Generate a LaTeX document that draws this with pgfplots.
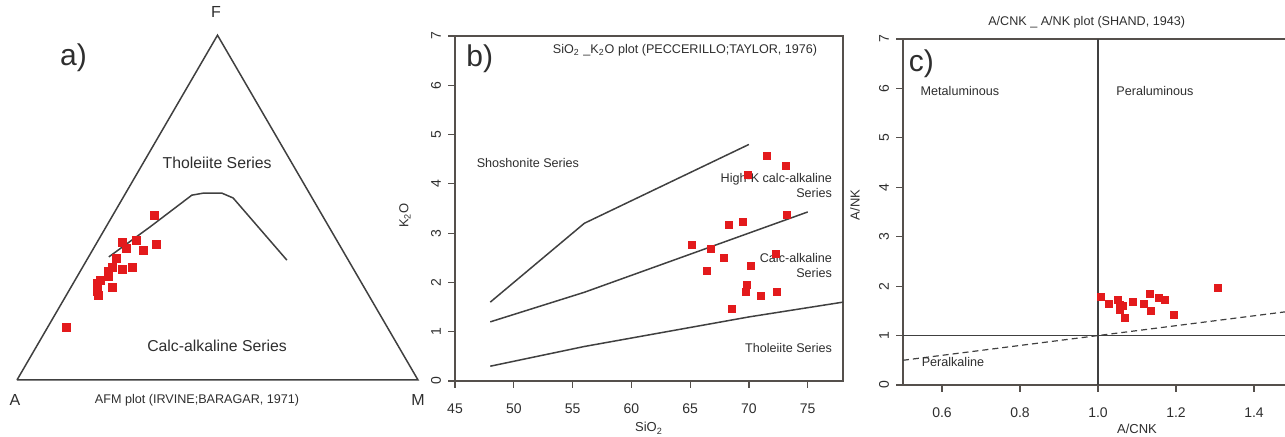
\documentclass[border=0pt]{standalone}
\usepackage{fontspec}
\setmainfont{Liberation Sans}
\usepackage{pgfplots}
\pgfplotsset{compat=1.18}

\definecolor{txtc}{HTML}{2E2E2E}
\definecolor{axisc}{HTML}{55504C}
\definecolor{linec}{HTML}{404040}
\definecolor{ptred}{HTML}{E31A1C}

\newcommand{\smallf}{\fontsize{6.3}{7.5}\selectfont}
\newcommand{\midf}{\fontsize{7.9}{9}\selectfont}
\newcommand{\bigf}{\fontsize{15}{17}\selectfont}

\pgfplotsset{
  rplot/.style={
    scale only axis,
    anchor=south west,
    clip=false,
    axis line style={draw=axisc, line width=0.75pt},
    tick style={draw=axisc, line width=0.6pt},
    tick align=outside,
    xtick pos=left, ytick pos=left,
    major tick length=3.5pt,
    /pgf/number format/assume math mode=true,
    ticklabel style={font=\fontsize{7}{8}\selectfont, text=txtc},
    yticklabel style={rotate=90, anchor=south},
    xticklabel shift=4.5pt,
  },
  pts/.style={only marks, mark=square*, mark options={fill=ptred, draw=ptred}},
  bnd/.style={draw=linec, line width=0.75pt, no marks},
}

\begin{document}
\begin{tikzpicture}

% a) AFM ternary (A at 0,0; M at 1,0; F at apex)
\begin{axis}[
  scale only axis, anchor=south west, clip=false, hide axis,
  at={(8.5pt,28.5pt)}, width=200.5pt, height=172.4pt,
  xmin=0, xmax=1, ymin=0, ymax=0.86]
\addplot[bnd] coordinates {(0,0) (1,0) (0.5,0.86) (0,0)};
\addplot[bnd] coordinates {(0.229,0.307) (0.332,0.382) (0.436,0.461) (0.464,0.466) (0.511,0.466) (0.539,0.454) (0.673,0.299)};
\addplot[pts, mark size=2pt] coordinates {
(0.342,0.411) (0.347,0.337) (0.299,0.347) (0.264,0.342) (0.274,0.327)
(0.314,0.322) (0.249,0.304) (0.289,0.282) (0.264,0.277) (0.239,0.282)
(0.227,0.272) (0.229,0.259) (0.209,0.249) (0.200,0.242) (0.237,0.232)
(0.200,0.222) (0.202,0.212) (0.122,0.130)};
\node[text=txtc, font=\fontsize{8}{9}\selectfont] at (axis cs:0.496,0.918) {F};
\node[text=txtc, font=\fontsize{8}{9}\selectfont] at (axis cs:-0.005,-0.05) {A};
\node[text=txtc, font=\fontsize{8}{9}\selectfont] at (axis cs:1.0,-0.05) {M};
\node[text=txtc, font=\bigf] at (axis cs:0.141,0.805) {a)};
\node[text=txtc, font=\midf] at (axis cs:0.499,0.541) {Tholeiite Series};
\node[text=txtc, font=\midf] at (axis cs:0.499,0.085) {Calc-alkaline Series};
\node[text=txtc, font=\smallf] at (axis cs:0.449,-0.05) {AFM plot (IRVINE;BARAGAR, 1971)};
\end{axis}

% b) SiO2 - K2O
\begin{axis}[rplot,
  at={(227.5pt,28pt)}, width=194pt, height=172.5pt,
  xmin=45, xmax=78, ymin=0, ymax=7,
  xtick={45,50,55,60,65,70,75}, ytick={0,1,2,3,4,5,6,7}]
\addplot[bnd] coordinates {(48,1.6) (56,3.2) (70,4.8)};
\addplot[bnd] coordinates {(48,1.2) (56,1.8) (75,3.43)};
\addplot[bnd] coordinates {(48,0.3) (56,0.7) (63,1.0) (70,1.3) (78,1.6)};
\addplot[pts, mark size=1.75pt] coordinates {
(71.51,4.56) (73.16,4.36) (69.90,4.18) (73.21,3.38) (68.29,3.16)
(69.48,3.22) (65.18,2.76) (66.79,2.68) (67.84,2.49) (72.31,2.57)
(70.19,2.34) (66.42,2.23) (69.84,1.95) (69.70,1.81) (70.98,1.73)
(72.36,1.81) (68.54,1.47)};
\node[text=txtc, font=\bigf] at (axis cs:47.1,6.53) {b)};
\node[text=txtc, font=\smallf, anchor=east] at (axis cs:76.4,6.71) {SiO\textsubscript{2} \_K\textsubscript{2}O plot (PECCERILLO;TAYLOR, 1976)};
\node[text=txtc, font=\smallf] at (axis cs:51.2,4.42) {Shoshonite Series};
\node[text=txtc, font=\smallf, anchor=east, align=right, inner sep=0pt] at (axis cs:77.1,3.96) {High-K calc-alkaline\\Series};
\node[text=txtc, font=\smallf, anchor=east, align=right, inner sep=0pt] at (axis cs:77.1,2.34) {Calc-alkaline\\Series};
\node[text=txtc, font=\smallf, anchor=east, inner sep=0pt] at (axis cs:77.1,0.67) {Tholeiite Series};
\node[text=txtc, font=\fontsize{6.5}{8}\selectfont, rotate=90] at ([xshift=-25pt]rel axis cs:0,0.48) {K\textsubscript{2}O};
\node[text=txtc, font=\fontsize{6.5}{8}\selectfont, anchor=north, inner sep=0pt] at ([yshift=-20.5pt]rel axis cs:0.5,0) {SiO\textsubscript{2}};
\end{axis}

% c) A/CNK - A/NK
\begin{axis}[rplot,
  at={(451.5pt,26pt)}, width=195pt, height=173pt,
  xmin=0.5, xmax=1.5, ymin=0, ymax=7,
  xtick={0.6,0.8,1.0,1.2,1.4}, xticklabels={0.6,0.8,1.0,1.2,1.4},
  ytick={0,1,2,3,4,5,6,7}]
\addplot[bnd] coordinates {(1,0) (1,7)};
\addplot[bnd] coordinates {(0.5,1) (1.5,1)};
\addplot[draw=linec, line width=0.6pt, densely dashed, no marks] coordinates {(0.5,0.5) (1.5,1.5)};
\addplot[pts, mark size=1.75pt] coordinates {
(1.008,1.79) (1.029,1.65) (1.052,1.72) (1.055,1.62) (1.065,1.60)
(1.055,1.52) (1.069,1.35) (1.089,1.69) (1.118,1.65) (1.133,1.84)
(1.136,1.50) (1.156,1.77) (1.172,1.72) (1.195,1.42) (1.308,1.96)};
\node[text=txtc, font=\bigf] at (axis cs:0.547,6.49) {c)};
\node[text=txtc, font=\smallf] at (axis cs:0.971,7.33) {A/CNK \_ A/NK plot (SHAND, 1943)};
\node[text=txtc, font=\smallf] at (axis cs:0.646,5.95) {Metaluminous};
\node[text=txtc, font=\smallf] at (axis cs:1.146,5.95) {Peraluminous};
\node[text=txtc, font=\smallf] at (axis cs:0.628,0.47) {Peralkaline};
\node[text=txtc, font=\fontsize{6.5}{8}\selectfont, rotate=90] at ([xshift=-24pt]rel axis cs:0,0.52) {A/NK};
\node[text=txtc, font=\fontsize{6.5}{8}\selectfont, anchor=north, inner sep=0pt] at ([yshift=-19.5pt]rel axis cs:0.6,0) {A/CNK};
\end{axis}

\pgfresetboundingbox
\useasboundingbox (0,0) rectangle (642.5pt,218.5pt);
\end{tikzpicture}
\end{document}
